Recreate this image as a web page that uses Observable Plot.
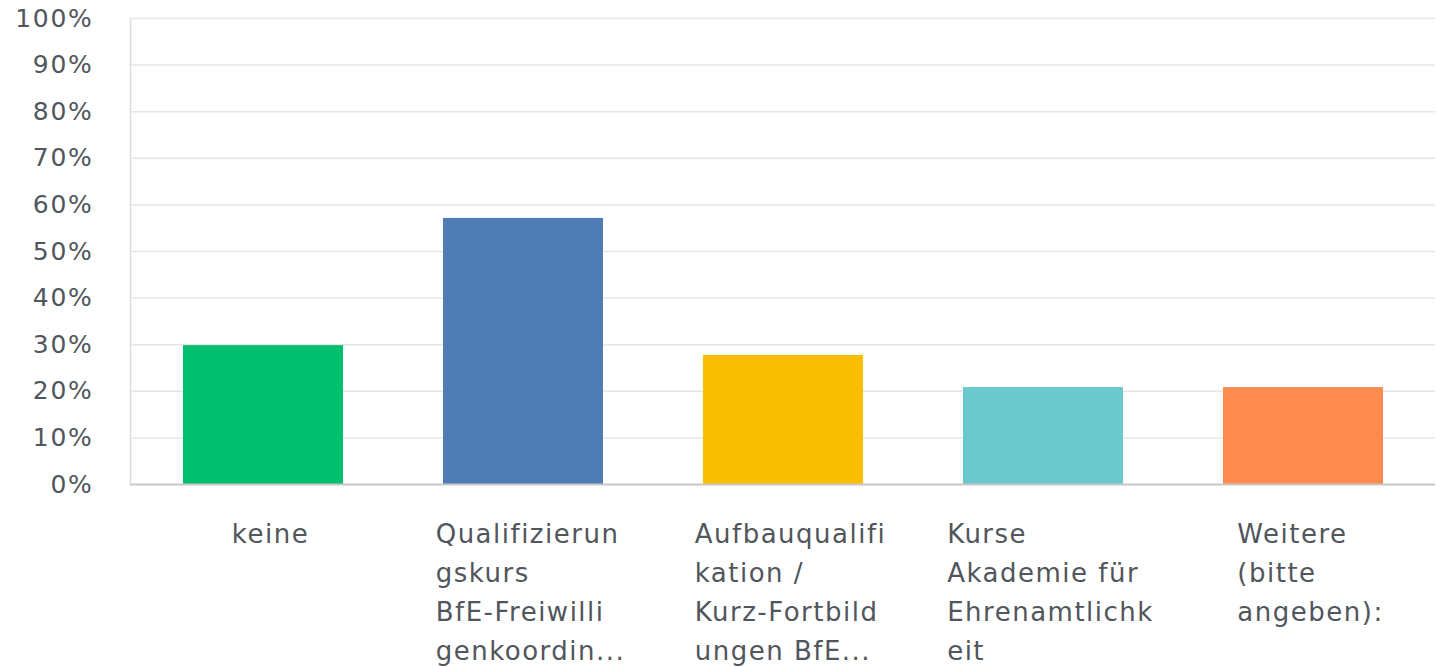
<!DOCTYPE html>
<html>
<head>
<meta charset="utf-8">
<script src="https://cdn.jsdelivr.net/npm/d3@7"></script>
<script src="https://cdn.jsdelivr.net/npm/@observablehq/plot@0.6"></script>
<style>
  html, body { margin: 0; padding: 0; background: #fff; }
  #chart { width: 1437px; height: 667px; }
  #chart svg g[aria-label="y-axis tick label"] text { letter-spacing: 1.7px; }
  #chart svg g[aria-label="text"] text { letter-spacing: 1.5px; }
</style>
</head>
<body>
<div id="chart"></div>
<script>
const categories = ["keine", "Qualifizierungskurs", "Aufbauqualifikation", "Kurse", "Weitere"];
const values = [0.298, 0.571, 0.277, 0.208, 0.208];
const colors = ["#00BF6F", "#507CB6", "#F9BE00", "#6BC8CD", "#FF8B4F"];
const labelLines = [
  ["keine"],
  ["Qualifizierun", "gskurs", "BfE-Freiwilli", "genkoordin..."],
  ["Aufbauqualifi", "kation /", "Kurz-Fortbild", "ungen BfE..."],
  ["Kurse", "Akademie für", "Ehrenamtlichk", "eit"],
  ["Weitere", "(bitte", "angeben):"]
];
const yTicks = [0, 0.1, 0.2, 0.3, 0.4, 0.5, 0.6, 0.7, 0.8, 0.9, 1.0];

const fontFamily = "'DejaVu Sans', sans-serif";
const xFontSize = 26;
const xLetterSpacing = 1.5;
const yFontSize = 25;
const textColor = "#51565c";

const ctx = document.createElement("canvas").getContext("2d");
ctx.font = `${xFontSize}px 'DejaVu Sans'`;
function lineWidth(s) { return ctx.measureText(s).width + xLetterSpacing * s.length; }

const data = categories.map((c, i) => ({
  category: c,
  value: values[i],
  color: colors[i],
  label: labelLines[i].join("\n"),
  halfWidth: d3.max(labelLines[i], lineWidth) / 2
}));

const labelMarks = data.map(d => Plot.text([d], {
  x: "category",
  y: () => 0,
  text: "label",
  textAnchor: "start",
  lineAnchor: "top",
  lineHeight: 1.5,
  dx: -d.halfWidth + 7,
  dy: 31,
  fontSize: xFontSize,
  fill: textColor
}));

const chart = Plot.plot({
  width: 1437,
  height: 667,
  marginTop: 18,
  marginBottom: 183,
  marginLeft: 130,
  marginRight: 2,
  style: {fontFamily: fontFamily, fontSize: yFontSize + "px", color: textColor, background: "#fff"},
  x: {domain: categories, paddingInner: 0.385, paddingOuter: 0.2, axis: null},
  y: {domain: [0, 1], ticks: yTicks, tickFormat: d => Math.round(d * 100) + "%", label: null},
  marks: [
    Plot.gridY(yTicks.slice(1), {stroke: "#e6e6e6", strokeOpacity: 1, strokeWidth: 1.5}),
    Plot.frame({anchor: "left", stroke: "#dddddd", strokeWidth: 1.5}),
    Plot.axisY({ticks: yTicks, tickSize: 0, tickPadding: 37, tickFormat: d => Math.round(d * 100) + "%", fontSize: yFontSize, fill: textColor, label: null}),
    Plot.barY(data, {x: "category", y: "value", fill: "color"}),
    Plot.ruleY([0], {stroke: "#c8c8c8", strokeWidth: 2}),
    ...labelMarks
  ]
});
document.getElementById("chart").appendChild(chart);
</script>
</body>
</html>
